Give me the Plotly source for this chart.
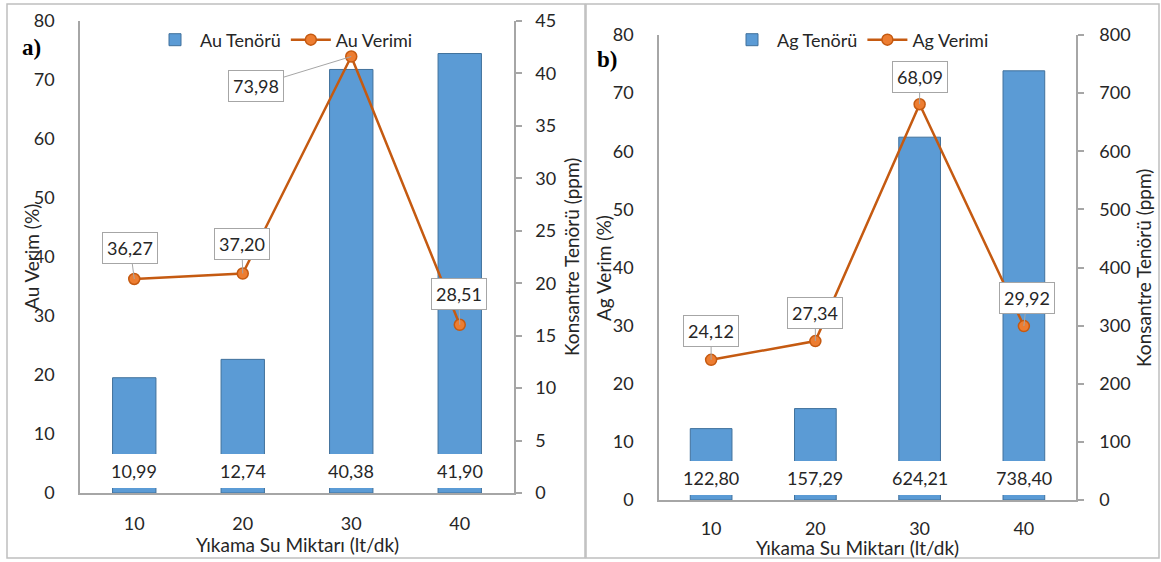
import plotly.graph_objects as go

# ---------------- data ----------------
categories = ["10", "20", "30", "40"]
au_tenor = [10.99, 12.74, 40.38, 41.90]      # ppm (right axis)
au_verim = [36.27, 37.20, 73.98, 28.51]      # % (left axis)
ag_tenor = [122.80, 157.29, 624.21, 738.40]  # ppm (right axis)
ag_verim = [24.12, 27.34, 68.09, 29.92]      # % (left axis)

au_left_ticks = [0, 10, 20, 30, 40, 50, 60, 70, 80]
au_right_ticks = [0, 5, 10, 15, 20, 25, 30, 35, 40, 45]
ag_left_ticks = [0, 10, 20, 30, 40, 50, 60, 70, 80]
ag_right_ticks = [0, 100, 200, 300, 400, 500, 600, 700, 800]

# callout offsets (pixels) for the line labels
au_callout_ax = [-4, -1, -95, -1]
au_callout_ay = [-31, -30, 29, -31]
ag_callout_ax = [0, 0, 0, 3]
ag_callout_ay = [-29, -28, -27, -28]

W, H = 1161, 562
FONT = "Lato"
TXT = "#262626"
GRID = "#A6A6A6"
BAR = "#5B9BD5"
BAR_EDGE = "#41719C"
LINE = "#C55A11"
MARK = "#ED7D31"
FS = 18


def fmt(v):
    return f"{v:.2f}".replace(".", ",")


def px_x(p):
    return p / W


def px_y(p):
    return 1 - p / H


fig = go.Figure()

# Panel a
fig.add_trace(go.Bar(x=categories, y=au_tenor, name="Au Tenörü", xaxis="x", yaxis="y",
                     marker=dict(color=BAR, line=dict(color=BAR_EDGE, width=1)),
                     width=0.4, legend="legend"))
fig.add_trace(go.Scatter(x=categories, y=au_verim, name="Au Verimi", xaxis="x", yaxis="y2",
                         mode="lines+markers",
                         line=dict(color=LINE, width=2.5),
                         marker=dict(color=MARK, size=11, line=dict(color=LINE, width=1.5)),
                         legend="legend"))
# Panel b
fig.add_trace(go.Bar(x=categories, y=ag_tenor, name="Ag Tenörü", xaxis="x2", yaxis="y3",
                     marker=dict(color=BAR, line=dict(color=BAR_EDGE, width=1)),
                     width=0.4, legend="legend2"))
fig.add_trace(go.Scatter(x=categories, y=ag_verim, name="Ag Verimi", xaxis="x2", yaxis="y4",
                         mode="lines+markers",
                         line=dict(color=LINE, width=2.5),
                         marker=dict(color=MARK, size=11, line=dict(color=LINE, width=1.5)),
                         legend="legend2"))

tickfont = dict(family=FONT, size=FS, color=TXT)

xa_dom = [px_x(80), px_x(514)]
ya_dom = [px_y(493), px_y(21)]
xb_dom = [px_x(659), px_x(1076)]
yb_dom = [px_y(500), px_y(35)]

common_x = dict(type="category", showline=True, linecolor=GRID, linewidth=1.5,
                ticks="", showgrid=False, tickfont=tickfont, zeroline=False,
                range=[-0.5, len(categories) - 0.5], autorange=False, automargin=False,
                fixedrange=True)
common_y = dict(showgrid=False, zeroline=False, showline=True, linecolor=GRID, linewidth=1.5,
                autorange=False, automargin=False, tickfont=tickfont, fixedrange=True)
right_ticks = dict(ticks="outside", ticklen=6, tickcolor=GRID, tickwidth=1.5)

fig.update_layout(
    template="none",
    width=W, height=H,
    margin=dict(l=0, r=0, t=0, b=0, pad=0, autoexpand=False),
    paper_bgcolor="white", plot_bgcolor="white",
    font=dict(family=FONT, color=TXT),
    barmode="group",
    xaxis=dict(domain=xa_dom, anchor="y", ticklabelstandoff=14, **common_x),
    yaxis=dict(domain=ya_dom, anchor="x", side="right", range=[0, 45],
               tickvals=au_right_ticks, ticklabelstandoff=10, **right_ticks, **common_y),
    yaxis2=dict(overlaying="y", anchor="x", side="left", range=[0, 80],
                tickvals=au_left_ticks, ticks="", ticklabelstandoff=20, **common_y),
    xaxis2=dict(domain=xb_dom, anchor="y3", ticklabelstandoff=12, **common_x),
    yaxis3=dict(domain=yb_dom, anchor="x2", side="right", range=[0, 800],
                tickvals=ag_right_ticks, ticklabelstandoff=12, **right_ticks, **common_y),
    yaxis4=dict(overlaying="y3", anchor="x2", side="left", range=[0, 80],
                tickvals=ag_left_ticks, ticks="", ticklabelstandoff=20, **common_y),
    legend=dict(orientation="h", x=px_x(150), xanchor="left", y=px_y(40), yanchor="middle",
                font=dict(family=FONT, size=FS, color=TXT), itemwidth=40,
                bgcolor="rgba(0,0,0,0)", traceorder="normal"),
    legend2=dict(orientation="h", x=px_x(727), xanchor="left", y=px_y(40), yanchor="middle",
                 font=dict(family=FONT, size=FS, color=TXT), itemwidth=40,
                 bgcolor="rgba(0,0,0,0)", traceorder="normal"),
)

annotations = []
# bar value labels (white boxes near the base of the bars)
for xr, yr, vals, yfrac in [("x", "y domain", au_tenor, 0.047), ("x2", "y3 domain", ag_tenor, 0.047)]:
    for i, v in enumerate(vals):
        annotations.append(dict(x=i, xref=xr, y=yfrac, yref=yr, text=fmt(v), showarrow=False,
                                bgcolor="white", borderpad=6, borderwidth=0,
                                xanchor="center", yanchor="middle",
                                font=dict(family=FONT, size=FS, color=TXT)))
# line value callouts
for xr, yr, vals, axs, ays in [("x", "y2", au_verim, au_callout_ax, au_callout_ay),
                               ("x2", "y4", ag_verim, ag_callout_ax, ag_callout_ay)]:
    for i, (v, ax, ay) in enumerate(zip(vals, axs, ays)):
        annotations.append(dict(x=i, xref=xr, y=v, yref=yr, text=fmt(v), showarrow=True,
                                arrowhead=0, arrowwidth=1, arrowcolor=GRID, ax=ax, ay=ay,
                                bgcolor="white", bordercolor=GRID, borderwidth=1, borderpad=4,
                                font=dict(family=FONT, size=FS, color=TXT)))

# axis titles
title_font = dict(family=FONT, size=19, color=TXT)
for text, x, y, ang in [("Au Verim (%)", 31, 257, -90),
                        ("Konsantre Tenörü (ppm)", 571, 257, -90),
                        ("Yıkama Su Miktarı (lt/dk)", 297, 544, 0),
                        ("Ag Verim (%)", 603, 268, -90),
                        ("Konsantre Tenörü (ppm)", 1143, 268, -90),
                        ("Yıkama Su Miktarı (lt/dk)", 857, 547, 0)]:
    annotations.append(dict(x=px_x(x), y=px_y(y), xref="paper", yref="paper", text=text,
                            showarrow=False, textangle=ang, font=title_font,
                            xanchor="center", yanchor="middle"))
# panel letters
for text, x, y in [("a)", 31, 47), ("b)", 607, 60)]:
    annotations.append(dict(x=px_x(x), y=px_y(y), xref="paper", yref="paper", text=f"<b>{text}</b>",
                            showarrow=False, font=dict(family="Liberation Serif", size=23, color="black"),
                            xanchor="center", yanchor="middle"))
fig.update_layout(annotations=annotations)

# panel frames
for x0, x1 in [(7, 585), (586, 1159)]:
    fig.add_shape(type="rect", xref="paper", yref="paper",
                  x0=px_x(x0), x1=px_x(x1), y0=px_y(558), y1=px_y(4),
                  line=dict(color="#BFBFBF", width=1.5), fillcolor="rgba(0,0,0,0)", layer="below")

fig.write_html("out.html")
